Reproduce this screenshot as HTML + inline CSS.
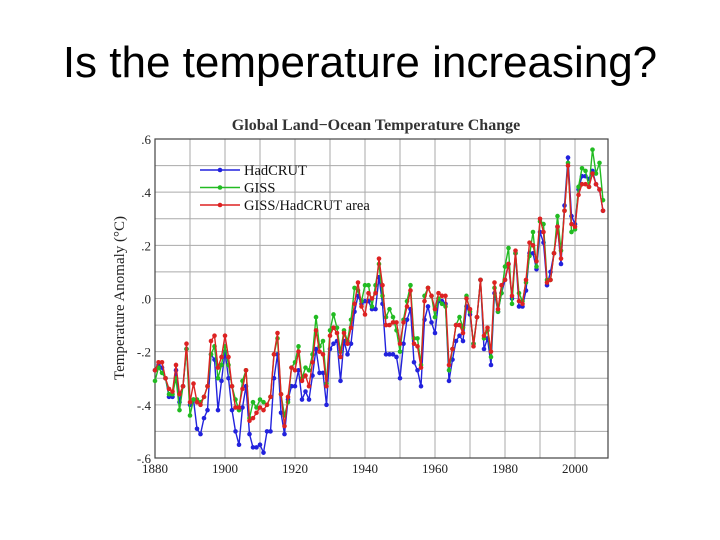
<!DOCTYPE html>
<html><head><meta charset="utf-8"><style>
html,body{margin:0;padding:0;background:#fff;width:720px;height:540px;overflow:hidden}
h1{position:absolute;left:0;top:38px;width:720px;margin:0;text-align:center;font:44px "Liberation Sans",sans-serif;color:#000}
svg{position:absolute;left:0;top:0}
</style></head><body>
<h1>Is the temperature increasing?</h1>
<svg id="c" width="720" height="540"></svg>
<script>
const startYear = 1880;
const yTicks = [0.6,0.4,0.2,0.0,-0.2,-0.4,-0.6];
const yTickLabels = [".6",".4",".2",".0","-.2","-.4","-.6"];
const xTicks = [1880,1900,1920,1940,1960,1980,2000];
const hadcrut = [-.27,-.25,-.26,-.30,-.37,-.37,-.27,-.39,-.33,-.19,-.40,-.38,-.49,-.51,-.45,-.42,-.21,-.23,-.42,-.31,-.20,-.30,-.42,-.50,-.55,-.41,-.33,-.51,-.56,-.56,-.55,-.58,-.50,-.50,-.30,-.21,-.43,-.51,-.38,-.33,-.33,-.27,-.38,-.35,-.38,-.29,-.19,-.28,-.28,-.40,-.19,-.17,-.16,-.31,-.16,-.21,-.17,-.05,.01,-.02,-.01,-.01,-.04,-.04,.08,-.02,-.21,-.21,-.21,-.22,-.30,-.17,-.08,-.04,-.24,-.27,-.33,-.08,-.03,-.09,-.13,-.01,-.01,-.02,-.31,-.23,-.16,-.14,-.16,-.03,-.06,-.17,-.07,.07,-.19,-.15,-.25,.02,-.05,.02,.07,.13,.00,.17,-.03,-.03,.03,.17,.17,.11,.25,.21,.05,.10,.17,.27,.13,.35,.53,.31,.28,.41,.46,.46,.45,.48,.43,.41,.33];
const giss = [-.31,-.26,-.28,-.30,-.36,-.36,-.30,-.42,-.33,-.19,-.44,-.38,-.38,-.39,-.37,-.33,-.21,-.18,-.30,-.25,-.18,-.25,-.33,-.38,-.42,-.31,-.27,-.45,-.39,-.41,-.38,-.39,-.40,-.37,-.21,-.15,-.36,-.44,-.39,-.26,-.24,-.18,-.30,-.26,-.27,-.21,-.07,-.18,-.16,-.32,-.12,-.06,-.11,-.20,-.12,-.16,-.08,.04,.03,-.01,.05,.05,-.03,.05,.13,.01,-.07,-.04,-.07,-.12,-.20,-.08,-.01,.05,-.15,-.15,-.25,.01,.04,.01,-.07,.00,-.02,-.03,-.27,-.19,-.10,-.07,-.11,.01,-.05,-.17,-.07,.07,-.15,-.12,-.22,.04,-.05,.02,.12,.19,-.02,.17,.02,-.01,.06,.16,.25,.12,.29,.28,.07,.07,.17,.31,.18,.33,.51,.25,.26,.42,.49,.48,.42,.56,.47,.51,.37];
const area = [-.27,-.24,-.24,-.30,-.34,-.35,-.25,-.36,-.33,-.17,-.39,-.32,-.39,-.40,-.37,-.33,-.16,-.14,-.26,-.22,-.14,-.22,-.33,-.41,-.41,-.34,-.27,-.46,-.45,-.43,-.41,-.42,-.40,-.37,-.21,-.13,-.36,-.48,-.37,-.26,-.27,-.20,-.31,-.29,-.33,-.24,-.12,-.20,-.21,-.33,-.14,-.11,-.13,-.22,-.13,-.17,-.11,-.02,.06,-.03,-.06,.02,.00,.02,.15,.05,-.10,-.10,-.09,-.09,-.17,-.09,-.03,.03,-.17,-.18,-.26,-.01,.04,.01,-.04,.02,.01,.01,-.25,-.19,-.10,-.10,-.13,.00,-.04,-.18,-.07,.07,-.14,-.11,-.20,.06,-.04,.05,.07,.13,.01,.18,-.01,-.02,.07,.21,.20,.14,.30,.25,.06,.07,.17,.27,.15,.33,.50,.28,.27,.39,.43,.43,.42,.47,.43,.41,.33];

const svg = document.getElementById('c');
const NS = 'http://www.w3.org/2000/svg';
const L=155,R=608,T=139,B=458;
const xs = yr => L + (yr-1880)*3.5;
const ys = v => T + (0.6 - v)/1.2*(B-T);
function mk(tag, attrs, parent){const e=document.createElementNS(NS,tag);for(const k in attrs)e.setAttribute(k,attrs[k]);(parent||svg).appendChild(e);return e;}

for(let y=1880;y<=2000;y+=10){const l=mk('line',{x1:xs(y),x2:xs(y),y1:T,y2:B,stroke:'#aaa','stroke-width':1});

}
for(let v=-5;v<=5;v++){const l=mk('line',{x1:L,x2:R,y1:ys(v/10),y2:ys(v/10),stroke:'#aaa','stroke-width':1});

}
const fr=mk('rect',{x:L,y:T,width:R-L,height:B-T,fill:'none',stroke:'#444','stroke-width':1.2});



yTicks.forEach((v,i)=>{const t=mk('text',{x:L-4,y:ys(v)+5,'text-anchor':'end','font-family':'Liberation Serif,serif','font-size':13,fill:'#222'});t.textContent=yTickLabels[i];

});
xTicks.forEach(y=>{const t=mk('text',{x:xs(y),y:B+15,'text-anchor':'middle','font-family':'Liberation Serif,serif','font-size':13,fill:'#222'});t.textContent=y;

});

const ct=mk('text',{x:376,y:130,'text-anchor':'middle','font-family':'Liberation Serif,serif','font-size':16,'font-weight':'bold',fill:'#333'});ct.textContent='Global Land\u2212Ocean Temperature Change';


const yl=mk('text',{x:0,y:0,'text-anchor':'middle','font-family':'Liberation Serif,serif','font-size':15,fill:'#222',transform:'translate(124,298) rotate(-90)'});yl.textContent='Temperature Anomaly (\u00B0C)';



function series(data,color,name){
  const pts=data.map((v,i)=>xs(startYear+i)+','+ys(v)).join(' ');
  const pl=mk('polyline',{points:pts,fill:'none',stroke:color,'stroke-width':1.4});
  
  
  data.forEach((v,i)=>{const c=mk('circle',{cx:xs(startYear+i),cy:ys(v),r:2.3,fill:color});
    
    });
}
series(hadcrut,'#2222dd','hadcrut');
series(giss,'#22bb22','giss');
series(area,'#dd2222','giss-hadcrut-area');

const leg=[['HadCRUT','#2222dd'],['GISS','#22bb22'],['GISS/HadCRUT area','#dd2222']];
leg.forEach((d,i)=>{const y=170+i*17.5;
  const g=mk('g',{});
  
  
  mk('line',{x1:200,x2:240,y1:y,y2:y,stroke:d[1],'stroke-width':1.4},g);
  mk('circle',{cx:220,cy:y,r:2.3,fill:d[1]},g);
  const t=mk('text',{x:244,y:y+5,'font-family':'Liberation Serif,serif','font-size':14.5,fill:'#111'},g);t.textContent=d[0];});
</script>
</body></html>
